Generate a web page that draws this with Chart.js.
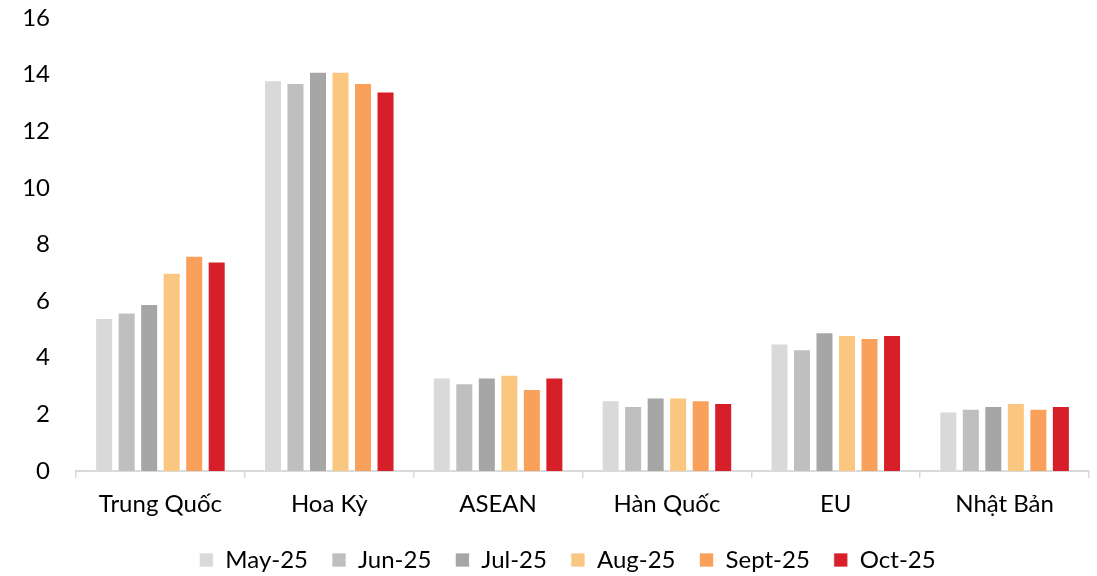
<!DOCTYPE html>
<html lang="vi">
<head>
  <meta charset="UTF-8" />
  <title>Xuất khẩu theo thị trường</title>
  <script src="https://cdn.jsdelivr.net/npm/chart.js"></script>
  <style>
    body {
      margin: 0;
      background: #fff;
    }
    .chart-box {
      width: 1097px;
      height: 576px;
    }
  </style>
</head>
<body>
  <div class="chart-box">
    <canvas id="marketChart"></canvas>
  </div>

  <script>
    const markets = ["Trung Quốc", "Hoa Kỳ", "ASEAN", "Hàn Quốc", "EU", "Nhật Bản"];
    const months = ["May-25", "Jun-25", "Jul-25", "Aug-25", "Sept-25", "Oct-25"];

    // giá trị theo tháng, thứ tự như markets
    const may25 = [5.4, 13.8, 3.3, 2.5, 4.5, 2.1];
    const jun25 = [5.6, 13.7, 3.1, 2.3, 4.3, 2.2];
    const jul25 = [5.9, 14.1, 3.3, 2.6, 4.9, 2.3];
    const aug25 = [7.0, 14.1, 3.4, 2.6, 4.8, 2.4];
    const sep25 = [7.6, 13.7, 2.9, 2.5, 4.7, 2.2];
    const oct25 = [7.4, 13.4, 3.3, 2.4, 4.8, 2.3];

    const yTicks = [0, 2, 4, 6, 8, 10, 12, 14, 16];

    const colors = ["#D9D9D9", "#BFBFBF", "#A6A6A6", "#F9C77F", "#F9A05A", "#D71F2A"];
    const series = [may25, jun25, jul25, aug25, sep25, oct25];

    const fontFamily = "Lato, 'Open Sans', sans-serif";

    // legend in the original sits a bit right of the canvas centre
    const legendShift = {
      id: "legendShift",
      afterLayout(chart) {
        chart.legend.left += 23;
        chart.legend.right += 23;
      }
    };

    new Chart(document.getElementById("marketChart"), {
      type: "bar",
      data: {
        labels: markets,
        datasets: series.map((vals, i) => ({
          label: months[i],
          data: vals,
          backgroundColor: colors[i],
          borderColor: "rgba(255,255,255,0.7)",
          borderWidth: 1,
          categoryPercentage: 0.8,
          barPercentage: 0.8
        }))
      },
      options: {
        responsive: true,
        maintainAspectRatio: false,
        animation: false,
        layout: {
          padding: { top: 18, right: 8, bottom: -6, left: 0 }
        },
        plugins: {
          legend: {
            position: "bottom",
            labels: {
              boxWidth: 14,
              boxHeight: 14,
              padding: 24,
              color: "#000",
              font: { family: fontFamily, size: 24 }
            }
          },
          tooltip: { enabled: false }
        },
        scales: {
          x: {
            grid: {
              display: true,
              drawOnChartArea: false,
              tickLength: 7,
              color: "#D9D9D9",
              lineWidth: 1.5
            },
            border: { color: "#D9D9D9", width: 2 },
            ticks: {
              color: "#000",
              padding: 12,
              font: { family: fontFamily, size: 24 }
            },
            afterFit: scale => { scale.height = 53; }
          },
          y: {
            min: 0,
            max: 16,
            afterBuildTicks: scale => {
              scale.ticks = yTicks.map(v => ({ value: v }));
            },
            // tick marks hidden, tickLength only pushes labels left
            grid: { display: false, drawTicks: true, tickLength: 23 },
            border: { display: false },
            ticks: {
              color: "#000",
              padding: 3,
              font: { family: fontFamily, size: 24 }
            },
            afterFit: scale => { scale.width = 76; }
          }
        }
      },
      plugins: [legendShift]
    });
  </script>
</body>
</html>
